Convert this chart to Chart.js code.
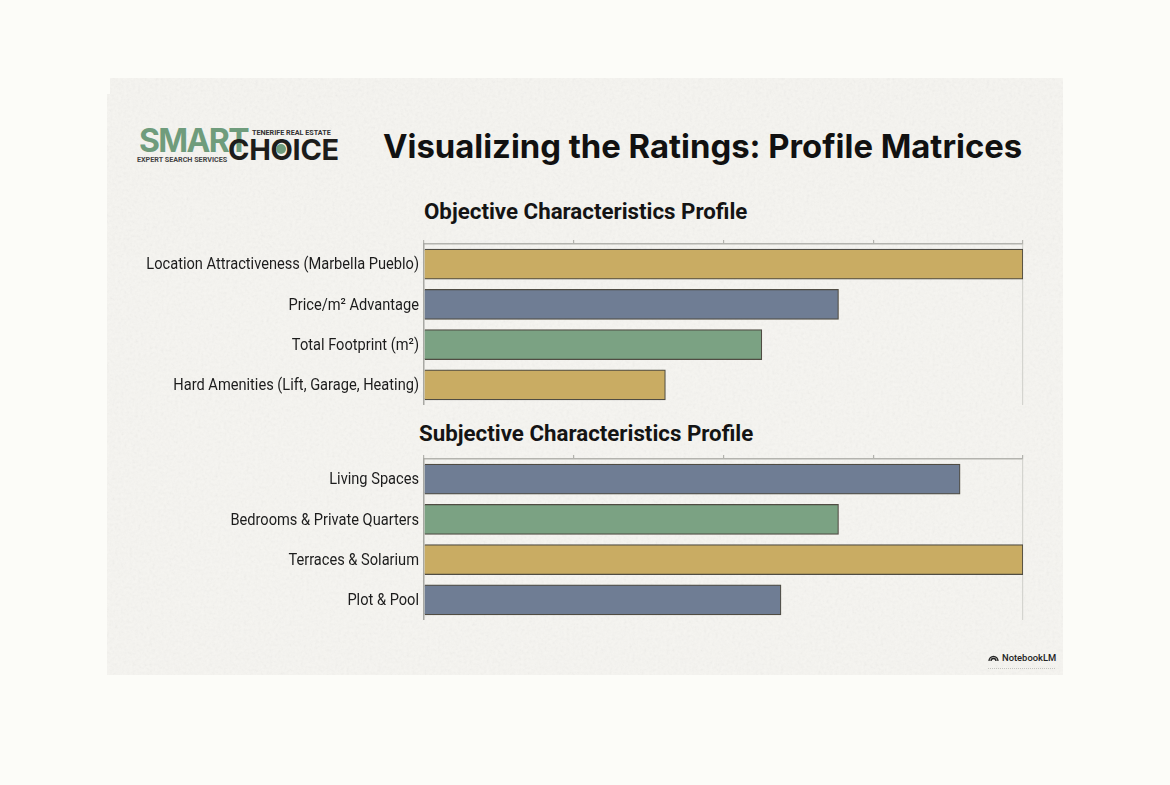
<!DOCTYPE html>
<html lang="en">
<head>
    <meta charset="UTF-8">
    <title>Visualizing the Ratings: Profile Matrices</title>
    <script src="https://cdn.jsdelivr.net/npm/chart.js"></script>
    <style>
        html, body { margin: 0; height: 100%; background: #fcfcf8; overflow: hidden; }
        #panel {
            position: absolute; left: 107px; top: 78px; width: 956px; height: 597px;
            background: #f6f5f1;
            clip-path: polygon(3px 0, 100% 0, 100% 100%, 0 100%, 0 16px, 3px 16px);
        }
        /* paper grain on the slide */
        #panel svg.grain { position: absolute; inset: 0; width: 100%; height: 100%; opacity: 0.1; }
        .text { position: absolute; white-space: nowrap; line-height: 1; }
        #mainTitle { left: 276px; top: 48px; font: 700 32.85px Inter, sans-serif; color: #111; }
        .subTitle { font: 700 22.3px Roboto, sans-serif; color: #141414; }
        #objTitle { left: 317px; top: 120px; }
        #subjTitle { left: 312px; top: 342px; }
        canvas { position: absolute; left: 0; }
        #smart { left: 32px; top: 43px; font: 700 32px Inter, sans-serif; color: #6f9c7c; letter-spacing: -1.6px; }
        #choice { left: 121px; top: 54px; font: 700 29px Inter, sans-serif; color: #1d1d1b; letter-spacing: -0.3px; }
        #choiceDot { position: absolute; left: 169px; top: 66px; width: 10px; height: 10px; border-radius: 50%; background: #6f9c7c; }
        #tagline { left: 30px; top: 77px; font: 700 7.2px Roboto, sans-serif; color: #444; }
        #tenerife { left: 145px; top: 50px; font: 700 7.2px Roboto, sans-serif; color: #333; }
        #notebook { left: 895px; top: 574px; font: 500 9.4px Roboto, sans-serif; color: #222; }
        #notebookIcon { position: absolute; left: 881px; top: 574px; }
        #notebookRule { position: absolute; left: 881px; top: 590px; width: 67px; border-top: 1px dotted #c4c4c0; }
    </style>
</head>
<body>
    <div id="panel">
        <svg class="grain" xmlns="http://www.w3.org/2000/svg">
            <filter id="paper"><feTurbulence type="fractalNoise" baseFrequency="0.35" numOctaves="3" seed="4"/><feColorMatrix type="saturate" values="0"/></filter>
            <rect width="100%" height="100%" filter="url(#paper)"/>
        </svg>

        <div class="text" id="smart">SMART</div>
        <div class="text" id="choice">CHOICE</div>
        <div id="choiceDot"></div>
        <div class="text" id="tagline">EXPERT SEARCH SERVICES</div>
        <div class="text" id="tenerife">TENERIFE REAL ESTATE</div>
        <div class="text" id="mainTitle">Visualizing the Ratings: Profile Matrices</div>

        <div class="text subTitle" id="objTitle">Objective Characteristics Profile</div>
        <canvas id="objectiveChart" width="956" height="171" style="top:156px"></canvas>

        <div class="text subTitle" id="subjTitle">Subjective Characteristics Profile</div>
        <canvas id="subjectiveChart" width="956" height="171" style="top:371px"></canvas>

        <svg id="notebookIcon" width="11" height="10" viewBox="0 0 11 10" fill="none" stroke="#222" stroke-width="1.3">
            <path d="M1 9 A4.5 4.5 0 0 1 10 9"/><path d="M3 9 A2.5 2.5 0 0 1 8 9"/>
        </svg>
        <div class="text" id="notebook">NotebookLM</div>
        <div id="notebookRule"></div>
    </div>

    <script>
        const gold = '#c9ac63', slate = '#6f7d94', sage = '#7ba283';

        // Objective ratings
        const objectiveLabels = ['Location Attractiveness (Marbella Pueblo)', 'Price/m² Advantage', 'Total Footprint (m²)', 'Hard Amenities (Lift, Garage, Heating)'];
        const objectiveValues = [100, 69.2, 56.4, 40.3];
        const objectiveColors = [gold, slate, sage, gold];

        // Subjective ratings
        const subjectiveLabels = ['Living Spaces', 'Bedrooms & Private Quarters', 'Terraces & Solarium', 'Plot & Pool'];
        const subjectiveValues = [89.5, 69.2, 100, 59.6];
        const subjectiveColors = [slate, sage, gold, slate];

        const axisMax = 100;
        const axisStep = 25;

        // Chart.js has no condensed option, so the category labels are squeezed here
        const narrowLabels = {
            id: 'narrowLabels',
            afterDraw(chart) {
                const { ctx, scales: { y }, chartArea } = chart;
                ctx.save();
                ctx.font = '17px Roboto';
                ctx.fillStyle = '#1c1c1c';
                ctx.textAlign = 'right';
                ctx.textBaseline = 'middle';
                chart.data.labels.forEach((label, i) => {
                    ctx.save();
                    ctx.translate(chartArea.left - 5, y.getPixelForTick(i) + 1);
                    ctx.scale(0.86, 1);
                    ctx.fillText(label, 0, 0);
                    ctx.restore();
                });
                ctx.restore();
            }
        };

        function drawProfile(id, labels, values, colors) {
            new Chart(document.getElementById(id), {
                type: 'bar',
                data: {
                    labels: labels,
                    datasets: [{
                        data: values,
                        backgroundColor: colors,
                        borderColor: 'rgba(50, 47, 36, 0.85)',
                        borderWidth: 1.2,
                        barThickness: 30
                    }]
                },
                plugins: [narrowLabels],
                options: {
                    indexAxis: 'y',
                    responsive: false,
                    animation: false,
                    layout: { padding: { right: 40 } },
                    plugins: { legend: { display: false }, tooltip: { enabled: false } },
                    scales: {
                        x: {
                            position: 'top',
                            min: 0,
                            max: axisMax,
                            // only the far right gridline runs down, the others are tick marks
                            grid: {
                                color: ctx => ctx.tick && ctx.tick.value === axisMax ? '#d4d4cf' : 'rgba(0,0,0,0)',
                                tickColor: '#b3b3ae',
                                tickLength: 4,
                                lineWidth: 1.2
                            },
                            border: { color: '#b3b3ae', width: 1.5 },
                            ticks: { stepSize: axisStep, display: false },
                            afterFit: scale => { scale.height = 10; }
                        },
                        y: {
                            grid: { display: false, tickLength: 0 },
                            border: { color: '#a8a8a3', width: 1.5 },
                            ticks: { display: false },
                            afterFit: scale => { scale.width = 317; }
                        }
                    }
                }
            });
        }

        drawProfile('objectiveChart', objectiveLabels, objectiveValues, objectiveColors);
        drawProfile('subjectiveChart', subjectiveLabels, subjectiveValues, subjectiveColors);
    </script>
</body>
</html>
